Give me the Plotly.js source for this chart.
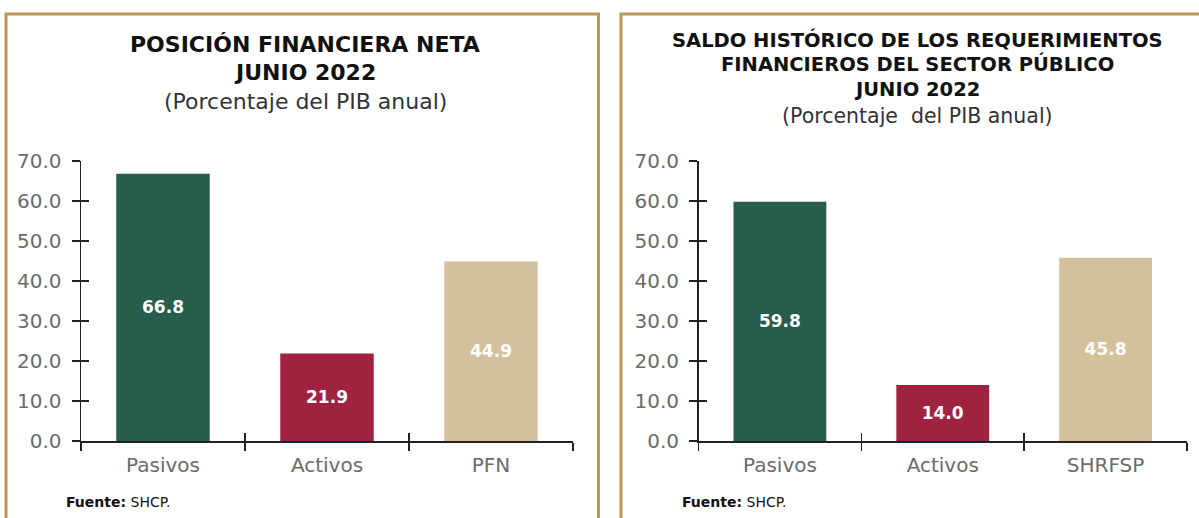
<!DOCTYPE html>
<html>
<head>
<meta charset="utf-8">
<script src="https://cdn.plot.ly/plotly-3.0.1.min.js"></script>
<style>html,body{margin:0;padding:0;background:#fff;}#chart{width:1199px;height:518px;}</style>
</head>
<body>
<div id="chart"></div>
<script>
// ---- data ----
const categoriesLeft = ["Pasivos", "Activos", "PFN"];
const valuesLeft = [66.8, 21.9, 44.9];
const categoriesRight = ["Pasivos", "Activos", "SHRFSP"];
const valuesRight = [59.8, 14.0, 45.8];
const barColors = ["#285C4D", "#9F2241", "#D4C19C"];
const yTicks = [0, 10, 20, 30, 40, 50, 60, 70];
const yTickLabels = ["0.0", "10.0", "20.0", "30.0", "40.0", "50.0", "60.0", "70.0"];
const titleLeft = ["POSICIÓN FINANCIERA NETA", "JUNIO 2022"];
const subtitleLeft = "(Porcentaje del PIB anual)";
const titleRight = ["SALDO HISTÓRICO DE LOS REQUERIMIENTOS", "FINANCIEROS DEL SECTOR PÚBLICO", "JUNIO 2022"];
const subtitleRight = "(Porcentaje  del PIB anual)";
const sourceText = "<b>Fuente:</b> SHCP.";

const FONT = "DejaVu Sans, Verdana, sans-serif";
const GREY = "#6b6b6b";
const GOLD = "#BC955C";

function barTrace(cats, vals, xa, ya) {
  return {
    type: "bar", x: cats, y: vals, xaxis: xa, yaxis: ya,
    marker: {color: barColors, line: {width: 0}},
    texttemplate: "%{y:.1f}", textposition: "inside", insidetextanchor: "middle",
    textfont: {family: FONT, size: 17, color: "#ffffff", weight: 700},
    hoverinfo: "skip", showlegend: false
  };
}
function ghostTrace(cats, vals, xa, ya) {
  return {type: "scatter", mode: "markers", x: cats, y: vals, xaxis: xa, yaxis: ya,
    marker: {opacity: 0}, hoverinfo: "skip", showlegend: false};
}

const traces = [
  barTrace(categoriesLeft, valuesLeft, "x", "y"),
  barTrace(categoriesRight, valuesRight, "x2", "y2"),
  ghostTrace(categoriesLeft, valuesLeft, "x3", "y3"),
  ghostTrace(categoriesRight, valuesRight, "x4", "y4")
];

const W = 1199, H = 518;
const px = v => v / W;
const py = v => (H - v) / H;
const yDom = [py(441), py(161)];

function xAxis(dom, cats, extra) {
  return Object.assign({
    domain: dom, type: "category", categoryarray: cats, range: [-0.5, 2.5],
    showline: true, linecolor: "#222", linewidth: 1.5,
    ticks: "outside", ticklen: 8, tickwidth: 1.5, tickcolor: "#222", tickson: "boundaries",
    tickfont: {family: FONT, size: 20, color: GREY}, ticklabelstandoff: 5,
    showgrid: false, zeroline: false, fixedrange: true
  }, extra || {});
}
function yAxis(anchor, extra) {
  return Object.assign({
    domain: yDom, anchor: anchor, range: [0, 70], tickvals: yTicks, ticktext: yTickLabels,
    showline: true, linecolor: "#222", linewidth: 1.5,
    ticks: "outside", ticklen: 8, tickwidth: 1.5, tickcolor: "#222",
    tickfont: {family: FONT, size: 20, color: GREY}, ticklabelstandoff: 6,
    showgrid: false, zeroline: false, fixedrange: true
  }, extra || {});
}
const overlayX = (ov, dom, cats) => xAxis(dom, cats, {overlaying: ov, ticks: "inside", showticklabels: false, showline: false});
const overlayY = (ov, anchor) => yAxis(anchor, {overlaying: ov, ticks: "inside", showticklabels: false, showline: false});

const leftDom = [px(81), px(573)];
const rightDom = [px(698.5), px(1187)];

const annotations = [];
function addText(text, xc, yc, size, bold, color, xanchor) {
  annotations.push({
    xref: "paper", yref: "paper", x: px(xc), y: py(yc), xanchor: xanchor || "center", yanchor: "middle",
    text: bold ? "<b>" + text + "</b>" : text, showarrow: false,
    font: {family: FONT, size: size, color: color || "#111"}
  });
}
addText(titleLeft[0], 305, 44, 22, true);
addText(titleLeft[1], 305, 72, 22, true);
addText(subtitleLeft, 305, 101, 22, false, "#333");
addText(titleRight[0], 917, 40, 19.5, true);
addText(titleRight[1], 917, 64, 19.5, true);
addText(titleRight[2], 917, 89, 19.5, true);
addText(subtitleRight, 917, 116, 20.5, false, "#333");
addText(sourceText, 64, 502, 14, false, "#111", "left");
addText(sourceText, 680, 502, 14, false, "#111", "left");

const shapes = [
  {type: "rect", xref: "paper", yref: "paper", x0: px(6), x1: px(598.5), y0: py(530), y1: py(14),
   line: {color: GOLD, width: 3}, fillcolor: "rgba(0,0,0,0)", layer: "below"},
  {type: "rect", xref: "paper", yref: "paper", x0: px(621), x1: px(1215), y0: py(530), y1: py(14),
   line: {color: GOLD, width: 3}, fillcolor: "rgba(0,0,0,0)", layer: "below"}
];

const layout = {
  width: W, height: H, margin: {l: 0, r: 0, t: 0, b: 0},
  paper_bgcolor: "#ffffff", plot_bgcolor: "rgba(0,0,0,0)",
  bargap: 0.43, showlegend: false,
  xaxis: xAxis(leftDom, categoriesLeft, {anchor: "y"}),
  yaxis: yAxis("x"),
  xaxis2: xAxis(rightDom, categoriesRight, {anchor: "y2"}),
  yaxis2: yAxis("x2"),
  xaxis3: overlayX("x", leftDom, categoriesLeft),
  yaxis3: overlayY("y", "x3"),
  xaxis4: overlayX("x2", rightDom, categoriesRight),
  yaxis4: overlayY("y2", "x4"),
  annotations: annotations, shapes: shapes
};
layout.xaxis3.anchor = "y3";
layout.xaxis4.anchor = "y4";

Plotly.newPlot("chart", traces, layout, {staticPlot: true, displayModeBar: false});
</script>
</body>
</html>
